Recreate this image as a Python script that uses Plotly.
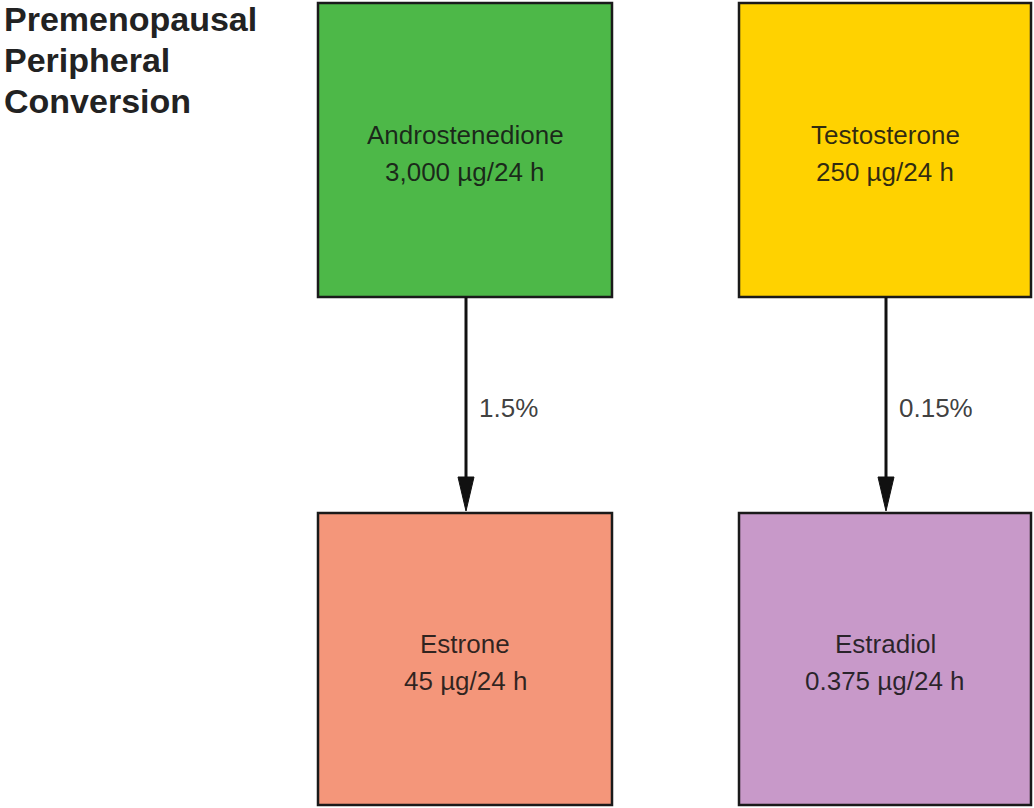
import plotly.graph_objects as go

# ---- data ----
title_lines = ["Premenopausal", "Peripheral", "Conversion"]
precursors = ["Androstenedione", "Testosterone"]
precursor_rates = ["3,000 µg/24 h", "250 µg/24 h"]
products = ["Estrone", "Estradiol"]
product_rates = ["45 µg/24 h", "0.375 µg/24 h"]
conversions = ["1.5%", "0.15%"]

# ---- styling / layout ----
precursor_colors = ["#4db848", "#ffd200"]
product_colors = ["#f4967a", "#c899c9"]
W, H = 1034, 808
col_x = [(318, 612), (739, 1031)]
top_y = (3, 297)
bot_y = (513, 805)
font = "Liberation Sans, Arial, sans-serif"
txt_color = "rgba(20,20,20,0.88)"

fig = go.Figure()
shapes = []
annotations = []

def box(x0, x1, y0, y1, color):
    shapes.append(dict(type="rect", xref="x", yref="y", x0=x0, x1=x1, y0=y0, y1=y1,
                       fillcolor=color, line=dict(color="#1a1a1a", width=2.5), layer="below"))

def label(x, y, text, size=26, anchor="center", bold=False, color=txt_color):
    annotations.append(dict(x=x, y=y, xref="x", yref="y", text=(f"<b>{text}</b>" if bold else text),
                            showarrow=False, xanchor=anchor, yanchor="middle",
                            font=dict(family=font, size=size, color=color)))

for i in range(2):
    x0, x1 = col_x[i]
    cx = (x0 + x1) / 2
    box(x0, x1, top_y[0], top_y[1], precursor_colors[i])
    box(x0, x1, bot_y[0], bot_y[1], product_colors[i])
    tc = (top_y[0] + top_y[1]) / 2
    bc = (bot_y[0] + bot_y[1]) / 2
    label(cx, tc - 15, precursors[i])
    label(cx, tc + 22, precursor_rates[i])
    label(cx, bc - 15, products[i])
    label(cx, bc + 22, product_rates[i])
    # arrow shaft
    ax = cx + 1
    shapes.append(dict(type="line", xref="x", yref="y", x0=ax, x1=ax, y0=top_y[1], y1=480,
                       line=dict(color="#111111", width=3)))
    # arrow head
    shapes.append(dict(type="path", xref="x", yref="y",
                       path=f"M {ax-8},477 L {ax+8},477 L {ax},{bot_y[0]-2} Z",
                       fillcolor="#111111", line=dict(color="#111111", width=1)))
    label(ax + 11, 408, conversions[i], anchor="left", color="rgba(40,40,40,0.9)")

for j, t in enumerate(title_lines):
    label(2, 19 + 41 * j, t, size=34, anchor="left", bold=True, color="#222222")

fig.update_layout(
    width=W, height=H, margin=dict(l=0, r=0, t=0, b=0),
    paper_bgcolor="white", plot_bgcolor="white",
    xaxis=dict(range=[0, W], visible=False, fixedrange=True),
    yaxis=dict(range=[H, 0], visible=False, fixedrange=True),
    shapes=shapes, annotations=annotations, showlegend=False,
)
fig.write_html("out.html", config={"displayModeBar": False},
               post_script="document.body.style.margin='0';document.body.style.overflow='hidden';")
